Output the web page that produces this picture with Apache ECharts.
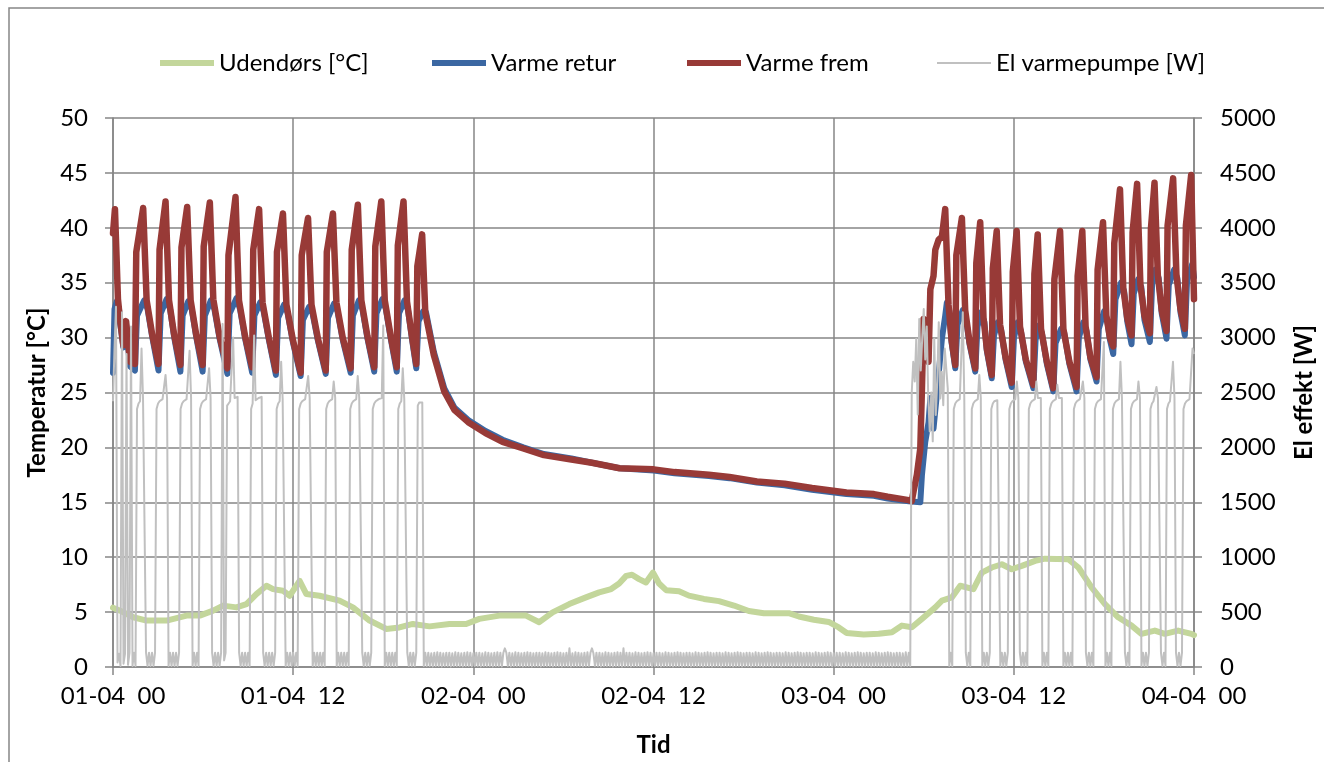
<!DOCTYPE html>
<html>
<head>
<meta charset="utf-8">
<title>Varmepumpe</title>
<script src="https://cdn.jsdelivr.net/npm/echarts@6/dist/echarts.min.js"></script>
<style>
  html, body { margin: 0; padding: 0; background: #fff; }
  #chart { width: 1324px; height: 762px; }
</style>
</head>
<body>
<div id="chart"></div>
<script>
// hours since 01-04 00
const xTickLabels = ['01-04  00', '01-04  12', '02-04  00', '02-04  12', '03-04  00', '03-04  12', '04-04  00'];
const seriesNames = ['Udendørs [°C]', 'Varme retur', 'Varme frem', 'El varmepumpe [W]'];

// outdoor temperature [hour, °C]
const udendors = [
  [0, 5.4], [0.47, 5.13], [1.35, 4.53], [2.24, 4.23], [3.57, 4.23], [4.9, 4.68], [5.78, 4.68],
  [6.67, 5.13], [7.33, 5.59], [8.22, 5.43], [8.89, 5.73], [9.55, 6.64], [10.22, 7.4], [10.66, 7.09],
  [11.32, 6.95], [11.77, 6.49], [12.43, 7.85], [12.88, 6.64], [13.76, 6.49], [15.09, 6.04],
  [15.98, 5.43], [17.09, 4.23], [18.2, 3.47], [19.08, 3.6], [19.97, 3.92], [21.08, 3.7],
  [22.41, 3.92], [23.52, 3.92], [24.4, 4.38], [25.73, 4.68], [27.51, 4.68], [28.39, 4.08],
  [29.28, 4.98], [30.39, 5.73], [31.5, 6.34], [32.38, 6.8], [33.18, 7.1], [33.71, 7.6],
  [34.18, 8.3], [34.57, 8.4], [35.04, 8.0], [35.5, 7.7], [35.97, 8.6], [36.37, 7.6], [36.84, 7.0],
  [37.7, 6.9], [38.36, 6.5], [39.36, 6.2], [40.36, 6.0], [41.36, 5.6], [42.35, 5.1], [43.35, 4.9],
  [45.01, 4.9], [45.68, 4.6], [46.68, 4.3], [47.67, 4.1], [48.34, 3.6], [48.87, 3.1], [50.0, 2.95],
  [51.0, 3.02], [51.88, 3.17], [52.55, 3.77], [53.21, 3.62], [53.88, 4.38], [54.77, 5.43],
  [55.21, 6.04], [55.87, 6.34], [56.43, 7.4], [57.31, 7.09], [57.87, 8.6], [58.53, 9.06],
  [59.2, 9.36], [59.86, 8.9], [60.53, 9.21], [61.42, 9.66], [62.08, 9.87], [63.63, 9.81],
  [64.3, 9.06], [65.18, 7.25], [66.07, 5.73], [66.95, 4.53], [67.84, 3.77], [68.5, 3.02],
  [69.39, 3.32], [70.06, 3.02], [70.94, 3.32], [71.83, 3.02], [72, 2.9]
];

// return temperature [hour, °C]
const varmeRetur = [
  [0, 26.8], [0.1, 32.6], [0.25, 33.3], [0.4, 32.6], [0.47, 31.4], [0.69, 29.1], [0.87, 31.2], [1.13, 27.4], [1.46, 27.0],
  [1.6, 32.0], [2.08, 33.4], [2.3, 32.6], [2.62, 30.0], [3.03, 27.0],
  [3.18, 32.2], [3.57, 33.5], [3.8, 32.6], [4.08, 30.0], [4.49, 26.9],
  [4.64, 32.0], [5.01, 33.3], [5.24, 32.6], [5.55, 30.0], [5.97, 26.9],
  [6.12, 32.0], [6.52, 33.4], [6.75, 32.6], [7.1, 29.9], [7.62, 26.7],
  [7.77, 32.2], [8.23, 33.6], [8.46, 32.6], [8.8, 29.9], [9.27, 26.8],
  [9.42, 32.0], [9.8, 33.2], [10.03, 32.4], [10.38, 29.8], [10.85, 26.6],
  [11.0, 31.8], [11.39, 33.0], [11.62, 32.3], [11.98, 29.6], [12.5, 26.5],
  [12.65, 31.6], [13.06, 32.8], [13.29, 32.2], [13.65, 29.7], [14.17, 26.7],
  [14.32, 31.8], [14.72, 33.1], [14.95, 32.4], [15.3, 29.8], [15.83, 26.8],
  [15.98, 32.0], [16.38, 33.4], [16.61, 32.6], [16.95, 29.9], [17.4, 26.9],
  [17.55, 32.2], [17.94, 33.5], [18.17, 32.6], [18.5, 29.9], [18.9, 26.9],
  [19.05, 32.2], [19.42, 33.4], [19.65, 32.5], [19.9, 30.0], [20.2, 27.2],
  [20.35, 31.5], [20.66, 32.4], [20.85, 32.3], [21.37, 28.7], [22.06, 25.4], [22.75, 23.6],
  [23.66, 22.5], [24.81, 21.5], [25.95, 20.7], [27.33, 20.0], [28.7, 19.4], [30.53, 19.0],
  [31.9, 18.6], [33.74, 18.1], [36.02, 17.9], [37.4, 17.65], [39.69, 17.4], [41.06, 17.2],
  [42.89, 16.8], [44.73, 16.55], [46.56, 16.15], [48.85, 15.75], [50.68, 15.6], [51.6, 15.35],
  [53.0, 15.1], [53.77, 15.0],
  [53.88, 17.5], [54.1, 20.5], [54.32, 22.3], [54.44, 24.5], [54.65, 21.7], [54.87, 24.8],
  [55.21, 29.9], [55.43, 32.0], [55.54, 33.2],
  [55.7, 32.4], [55.85, 29.6], [56.1, 27.2], [56.25, 31.2], [56.6, 32.5], [56.8, 31.8], [57.05, 29.4],
  [57.43, 26.9], [57.58, 31.0], [57.82, 32.3], [58.04, 31.4], [58.2, 28.8], [58.53, 26.3],
  [58.68, 30.2], [58.93, 31.4], [59.14, 30.8], [59.45, 28.0], [59.86, 25.5], [60.01, 30.0],
  [60.26, 31.4], [60.47, 30.6], [60.8, 27.8], [61.3, 25.4], [61.45, 29.8], [61.66, 31.1],
  [61.87, 30.4], [62.2, 27.6], [62.63, 25.1], [62.78, 29.5], [63.15, 30.8], [63.36, 30.4],
  [63.7, 27.6], [64.18, 25.1], [64.33, 30.0], [64.63, 31.4], [64.84, 30.6], [65.1, 28.0],
  [65.51, 26.0], [65.66, 30.8], [66.01, 32.4], [66.22, 31.6], [66.4, 29.8], [66.62, 28.5],
  [66.77, 33.5], [67.14, 35.0], [67.35, 34.2], [67.55, 31.5], [67.84, 29.4], [67.99, 34.0],
  [68.28, 35.3], [68.49, 34.6], [68.7, 31.6], [69.06, 29.6], [69.21, 34.8], [69.44, 36.2],
  [69.65, 35.4], [69.85, 32.2], [70.17, 29.9], [70.32, 34.8], [70.68, 36.2], [70.89, 35.4],
  [71.1, 32.3], [71.39, 30.2], [71.54, 35.2], [71.88, 36.7], [72, 35.5]
];

// supply temperature [hour, °C]
const varmeFrem = [
  [0, 39.5], [0.13, 41.7], [0.33, 33.5], [0.47, 31.6], [0.69, 29.3], [0.87, 31.5], [1.13, 27.8], [1.46, 27.6], [1.55, 37.8], [2.01, 41.8],
  [2.24, 33.4], [2.62, 30.2], [3.03, 27.6], [3.1, 38.0], [3.5, 42.4],
  [3.73, 33.4], [4.08, 30.2], [4.49, 27.5], [4.56, 38.2], [4.94, 41.9],
  [5.17, 33.4], [5.55, 30.2], [5.97, 27.5], [6.04, 38.3], [6.45, 42.3],
  [6.68, 33.5], [7.1, 30.1], [7.62, 27.2], [7.69, 37.5], [8.16, 42.8],
  [8.39, 33.4], [8.8, 30.1], [9.27, 27.3], [9.34, 38.0], [9.73, 41.7],
  [9.96, 33.2], [10.38, 30.0], [10.85, 27.0], [10.92, 37.8], [11.32, 41.3],
  [11.55, 33.0], [11.98, 29.8], [12.5, 26.8], [12.57, 37.5], [12.99, 40.9],
  [13.22, 33.0], [13.65, 29.9], [14.17, 27.0], [14.24, 37.8], [14.65, 41.3],
  [14.88, 33.2], [15.3, 30.0], [15.83, 27.2], [15.9, 38.0], [16.31, 42.1],
  [16.54, 33.4], [16.95, 30.1], [17.4, 27.3], [17.47, 38.3], [17.87, 42.4],
  [18.1, 33.4], [18.5, 30.1], [18.9, 27.3], [18.97, 38.4], [19.35, 42.4],
  [19.58, 33.3], [19.9, 30.2], [20.2, 27.6], [20.27, 36.5], [20.59, 39.4],
  [20.8, 32.3], [21.37, 28.4], [22.06, 25.1], [22.75, 23.4], [23.66, 22.3], [24.81, 21.3],
  [25.95, 20.5], [27.33, 19.9], [28.7, 19.3], [30.53, 18.9], [31.9, 18.6], [33.74, 18.1],
  [36.02, 18.0], [37.4, 17.75], [39.69, 17.5], [41.06, 17.3], [42.89, 16.9], [44.73, 16.7],
  [46.56, 16.3], [48.85, 15.9], [50.68, 15.75], [51.6, 15.5], [53.0, 15.2], [53.2, 15.1],
  [53.32, 16.0], [53.54, 17.5], [53.77, 19.9], [53.88, 25.4], [53.99, 31.7], [54.22, 28.5],
  [54.32, 27.8], [54.44, 34.4], [54.65, 35.6], [54.77, 38.0], [54.99, 38.9], [55.21, 39.2], [55.43, 41.7],
  [55.65, 33.0], [55.85, 29.8], [56.1, 27.5], [56.17, 37.5], [56.54, 40.9],
  [56.76, 32.5], [57.05, 29.6], [57.43, 27.2], [57.5, 36.8], [57.76, 40.5],
  [57.98, 31.8], [58.2, 29.0], [58.53, 26.6], [58.6, 36.3], [58.86, 39.7],
  [59.08, 31.2], [59.45, 28.2], [59.86, 25.9], [59.93, 36.0], [60.19, 39.7],
  [60.41, 31.0], [60.8, 28.0], [61.3, 25.7], [61.37, 35.8], [61.59, 39.4],
  [61.81, 30.8], [62.2, 27.8], [62.63, 25.4], [62.7, 35.3], [63.08, 39.7],
  [63.3, 30.8], [63.7, 27.8], [64.18, 25.5], [64.25, 35.6], [64.56, 39.7],
  [64.78, 31.0], [65.1, 28.2], [65.51, 26.4], [65.58, 36.2], [65.94, 40.5],
  [66.16, 32.0], [66.4, 30.0], [66.62, 29.2], [66.69, 38.6], [67.07, 43.5],
  [67.29, 34.5], [67.55, 31.8], [67.84, 30.2], [67.91, 39.6], [68.21, 44.0],
  [68.43, 34.8], [68.7, 32.0], [69.06, 30.4], [69.13, 39.9], [69.37, 44.1],
  [69.59, 35.7], [69.85, 32.5], [70.17, 30.6], [70.24, 40.2], [70.61, 44.5],
  [70.83, 35.7], [71.1, 32.6], [71.39, 30.8], [71.46, 40.2], [71.81, 44.8],
  [72, 33.5]
];

// heat pump power [W], one reading every 0.1 h from 01-04 00
const elStep = 0.1;
const elPower = [
  2420, 2900, 3280, 40, 120, 10, 3230, 30, 120, 2850,
  20, 130, 3100, 10, 130, 10, 2350, 2400, 2420, 2900,
  2440, 2450, 130, 10, 130, 10, 130, 10, 130, 2350,
  2400, 2420, 2430, 2440, 2450, 2660, 2450, 10, 130, 10,
  130, 10, 130, 10, 130, 2350, 2400, 2420, 2430, 2440,
  2450, 2880, 2450, 10, 130, 10, 130, 10, 2350, 2400,
  2420, 2430, 2440, 2450, 2720, 2450, 130, 10, 130, 10,
  130, 10, 130, 3125, 60, 130, 2380, 2400, 2420, 2430,
  3000, 2450, 2460, 2460, 130, 10, 130, 10, 130, 10,
  130, 10, 2350, 2400, 3020, 2430, 2440, 2450, 2450, 2460,
  130, 10, 130, 10, 130, 10, 130, 10, 130, 2350,
  2400, 2420, 2780, 2440, 2450, 10, 130, 10, 130, 10,
  130, 10, 130, 10, 2350, 2400, 2420, 2430, 2440, 2450,
  2650, 2450, 2450, 10, 130, 10, 130, 10, 130, 10,
  130, 10, 2350, 2400, 2420, 2430, 2440, 2600, 2450, 10,
  130, 10, 130, 10, 130, 10, 130, 10, 2350, 2400,
  2420, 2430, 2440, 2650, 2450, 2450, 130, 10, 130, 10,
  130, 10, 130, 2350, 2400, 2420, 2430, 2440, 2450, 2450,
  3110, 10, 130, 10, 130, 10, 130, 10, 130, 10,
  2350, 2400, 2420, 2720, 2440, 2450, 130, 10, 130, 10,
  130, 10, 130, 2380, 2410, 2420, 2410, 10, 130, 10,
  130, 10, 125, 5, 130, 10, 135, 10, 130, 5,
  125, 10, 130, 10, 130, 5, 125, 10, 135, 10,
  130, 10, 125, 5, 130, 10, 135, 10, 130, 5,
  125, 10, 130, 10, 130, 5, 125, 10, 135, 10,
  130, 10, 125, 5, 130, 10, 135, 10, 130, 5,
  130, 170, 130, 10, 130, 5, 125, 10, 135, 10,
  130, 10, 125, 5, 130, 10, 135, 10, 130, 5,
  125, 10, 130, 10, 130, 5, 125, 10, 135, 10,
  130, 10, 125, 5, 130, 10, 135, 10, 130, 5,
  125, 10, 130, 10, 170, 5, 125, 10, 135, 10,
  130, 10, 125, 5, 130, 10, 135, 10, 130, 170,
  125, 10, 130, 10, 130, 5, 125, 10, 135, 10,
  130, 10, 125, 5, 130, 10, 135, 10, 130, 5,
  170, 10, 130, 10, 130, 5, 125, 10, 135, 10,
  130, 10, 125, 5, 130, 10, 135, 10, 130, 5,
  125, 10, 130, 10, 130, 5, 125, 10, 135, 10,
  130, 10, 125, 5, 130, 10, 135, 10, 130, 5,
  125, 10, 130, 10, 130, 5, 125, 10, 135, 10,
  130, 10, 125, 5, 130, 10, 135, 10, 130, 5,
  125, 10, 130, 10, 130, 5, 125, 10, 135, 10,
  130, 10, 125, 5, 130, 10, 135, 10, 130, 5,
  125, 10, 130, 10, 130, 5, 125, 10, 135, 10,
  130, 10, 125, 5, 130, 10, 135, 10, 130, 5,
  125, 10, 130, 10, 130, 5, 125, 10, 135, 10,
  130, 10, 125, 5, 130, 10, 135, 10, 130, 5,
  125, 10, 130, 10, 130, 5, 125, 10, 135, 10,
  130, 10, 125, 5, 130, 10, 135, 10, 130, 5,
  125, 10, 130, 10, 130, 5, 125, 10, 135, 10,
  130, 10, 125, 5, 130, 10, 135, 10, 130, 5,
  125, 10, 130, 10, 130, 5, 125, 10, 135, 10,
  130, 10, 125, 5, 130, 10, 135, 10, 130, 5,
  125, 10, 130, 10, 130, 5, 125, 10, 135, 10,
  130, 10, 2500, 2780, 2600, 2990, 2300, 3170, 2700, 3000,
  3260, 2800, 3100, 2450, 2145, 2500, 2055, 2990, 2295, 2600,
  3140, 2445, 2690, 2385, 2900, 2900, 2535, 10, 130, 10,
  2350, 2400, 2420, 2430, 2440, 2450, 3230, 2450, 130, 10,
  130, 10, 2350, 2400, 2420, 2430, 2440, 2660, 2450, 10,
  130, 10, 130, 10, 130, 2350, 2400, 2420, 2430, 2430,
  2420, 10, 130, 10, 130, 10, 130, 2350, 2400, 2420,
  2430, 2440, 2600, 2450, 130, 10, 130, 10, 130, 10,
  2350, 2400, 2420, 2430, 2440, 2600, 2450, 2450, 2450, 10,
  130, 10, 130, 10, 2350, 2400, 2420, 2430, 2440, 2570,
  2450, 2450, 2450, 10, 130, 10, 130, 10, 130, 10,
  2350, 2400, 2420, 2430, 2440, 2450, 2600, 2450, 130, 10,
  130, 10, 130, 10, 2350, 2400, 2420, 2430, 2440, 2450,
  2960, 10, 130, 10, 130, 10, 2350, 2400, 2420, 2430,
  2440, 2780, 2450, 2450, 130, 10, 130, 10, 2350, 2400,
  2420, 2430, 2440, 2600, 2450, 10, 130, 10, 130, 10,
  130, 2350, 2400, 2420, 2430, 2550, 2450, 2450, 130, 10,
  130, 10, 2350, 2400, 2420, 2430, 2780, 2450, 130, 10,
  130, 10, 130, 2350, 2400, 2420, 2430, 2440, 2450, 2900,
  2850
];

const font = 'Lato, "Open Sans", sans-serif';
const axisGray = '#868686';
const lineColors = ['#C3D69B', '#3B67A2', '#983A37', '#C0C0C0'];

const chart = echarts.init(document.getElementById('chart'), null, { renderer: 'canvas' });

function legendAt(name, left, thickness) {
  return {
    data: [name],
    left: left,
    top: 46,
    icon: 'rect',
    itemWidth: 54,
    itemHeight: thickness,
    selectedMode: false,
    textStyle: { fontFamily: font, fontSize: 24, color: '#000' },
  };
}

const axisText = { fontFamily: font, fontSize: 24, color: '#000' };
const nameText = { fontFamily: font, fontSize: 24, fontWeight: 'bold', color: '#000' };

const option = {
  animation: false,
  backgroundColor: '#fff',
  textStyle: { fontFamily: font },
  graphic: [
    {
      type: 'polyline',
      silent: true,
      shape: { points: [[9, 762], [9, 8], [1324, 8]] },
      style: { stroke: axisGray, lineWidth: 1.5, fill: null },
    },
  ],
  legend: [
    legendAt(seriesNames[0], 155, 6),
    legendAt(seriesNames[1], 427, 6),
    legendAt(seriesNames[2], 682, 6),
    legendAt(seriesNames[3], 932, 2),
  ],
  grid: { left: 113, right: 128, top: 118, bottom: 92 },
  xAxis: {
    type: 'value',
    min: 0,
    max: 72,
    interval: 12,
    name: 'Tid',
    nameLocation: 'middle',
    nameGap: 66,
    nameTextStyle: nameText,
    axisLine: { lineStyle: { color: axisGray, width: 1.5 } },
    axisTick: { show: true, length: 8, lineStyle: { color: axisGray, width: 1.5 } },
    axisLabel: Object.assign({ margin: 17, formatter: v => xTickLabels[Math.round(v / 12)] }, axisText),
    splitLine: { show: true, lineStyle: { color: axisGray, width: 1.5 } },
  },
  yAxis: [
    {
      type: 'value',
      min: 0,
      max: 50,
      interval: 5,
      name: 'Temperatur [°C]',
      nameLocation: 'middle',
      nameRotate: 90,
      nameGap: 62,
      nameTextStyle: nameText,
      axisLine: { show: true, lineStyle: { color: axisGray, width: 1.5 } },
      axisTick: { show: true, length: 8, lineStyle: { color: axisGray, width: 1.5 } },
      axisLabel: Object.assign({ margin: 25 }, axisText),
      splitLine: { show: true, lineStyle: { color: axisGray, width: 1.5 } },
    },
    {
      type: 'value',
      position: 'right',
      min: 0,
      max: 5000,
      interval: 500,
      name: 'El effekt [W]',
      nameLocation: 'middle',
      nameRotate: 90,
      nameGap: 98,
      nameTextStyle: nameText,
      axisLine: { show: true, lineStyle: { color: axisGray, width: 1.5 } },
      axisTick: { show: true, length: 8, lineStyle: { color: axisGray, width: 1.5 } },
      axisLabel: Object.assign({ margin: 26, formatter: v => String(v) }, axisText),
      splitLine: { show: false },
    },
  ],
  series: [
    {
      name: seriesNames[0],
      type: 'line',
      data: udendors,
      symbol: 'none',
      lineStyle: { color: lineColors[0], width: 6, join: 'round', cap: 'round' },
      itemStyle: { color: lineColors[0] },
    },
    {
      name: seriesNames[1],
      type: 'line',
      data: varmeRetur,
      symbol: 'none',
      lineStyle: { color: lineColors[1], width: 6, join: 'round', cap: 'round' },
      itemStyle: { color: lineColors[1] },
    },
    {
      name: seriesNames[2],
      type: 'line',
      data: varmeFrem,
      symbol: 'none',
      lineStyle: { color: lineColors[2], width: 6.5, join: 'round', cap: 'round' },
      itemStyle: { color: lineColors[2] },
    },
    {
      name: seriesNames[3],
      type: 'line',
      yAxisIndex: 1,
      data: elPower.map((w, i) => [i * elStep, w]),
      symbol: 'none',
      lineStyle: { color: lineColors[3], width: 2, join: 'round' },
      itemStyle: { color: lineColors[3] },
    },
  ],
};

chart.setOption(option);
</script>
</body>
</html>
